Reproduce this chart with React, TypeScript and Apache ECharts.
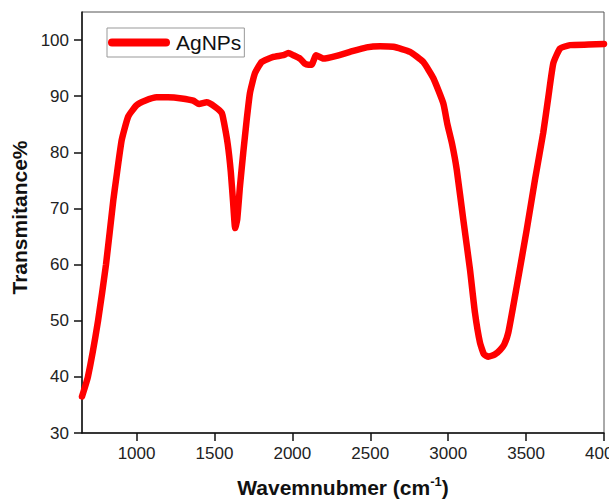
import React, { useEffect, useRef } from "react";
import * as echarts from "echarts";

const wavenumbers = [
  650, 688, 753, 804, 851, 868, 905, 947, 1001, 1054, 1129, 1202, 1290, 1364, 1401, 1450, 1504, 1547,
  1560, 1585, 1605, 1620, 1633, 1646, 1664, 1685, 1707, 1728, 1760, 1803, 1878, 1942, 1974, 2006,
  2049, 2080, 2102, 2124, 2152, 2199, 2284, 2370, 2477, 2563, 2648, 2755, 2840, 2905, 2969, 2995,
  3025, 3055, 3097, 3140, 3172, 3204, 3230, 3258, 3300, 3333, 3360, 3386, 3440, 3504, 3557, 3610,
  3643, 3675, 3718, 3782, 3900, 4000,
];
const transmittance = [
  36.5, 40, 50, 60, 71.5, 75, 82.2, 86.4, 88.4, 89.2, 89.8, 89.8, 89.6, 89.2, 88.6, 88.9, 88.1, 87,
  85.5, 81.5, 76.5, 71, 66.5, 68, 74, 80, 85.8, 90.6, 94.1, 96.1, 97, 97.3, 97.7, 97.3,
  96.7, 95.8, 95.6, 95.6, 97.3, 96.7, 97.2, 97.9, 98.7, 98.9, 98.8, 97.9, 96.1, 93.2, 88.7, 85,
  81.5, 76.9, 68, 59.1, 51.4, 46.1, 44, 43.6, 44, 44.8, 45.8, 47.9, 56.1, 66.2, 75.1, 83.5,
  89.9, 95.9, 98.5, 99.1, 99.2, 99.3,
];
const xTicks = [1000, 1500, 2000, 2500, 3000, 3500, 4000];
const yTicks = [30, 40, 50, 60, 70, 80, 90, 100];
const seriesName = "AgNPs";

export default function App() {
  const ref = useRef<HTMLDivElement>(null);
  useEffect(() => {
    if (!ref.current) return;
    const chart = echarts.init(ref.current, null, { renderer: "svg" });
    const font = "'Liberation Sans', Arial, sans-serif";
    const data = wavenumbers.map((w, i) => [w, transmittance[i]]);
    chart.setOption({
      animation: false,
      textStyle: { fontFamily: font },
      grid: {
        left: 82,
        right: 5,
        top: 12,
        bottom: 68,
        containLabel: false,
        outerBoundsMode: "none",
        show: true,
        borderColor: "#555",
        borderWidth: 1,
      },
      legend: {
        data: [seriesName],
        left: 107,
        top: 28,
        orient: "vertical",
        padding: [4, 3, 4, 1],
        itemWidth: 54,
        itemHeight: 21,
        borderColor: "#999",
        borderWidth: 1,
        borderRadius: 0,
        itemStyle: { opacity: 0 },
        lineStyle: { width: 8, cap: "round", color: "#ff0000" },
        textStyle: {
          fontFamily: font,
          fontSize: 21,
          color: "#111",
          padding: [0, 0, 0, 5],
        },
      },
      xAxis: {
        type: "value",
        min: 650,
        max: 4000,
        name: "{t|Wavemnubmer (cm}{s|-1}{t|)}",
        nameLocation: "middle",
        nameGap: 42,
        nameTextStyle: {
          rich: {
            t: { fontFamily: font, fontSize: 21, fontWeight: "bold", color: "#111", lineHeight: 24 },
            s: { fontFamily: font, fontSize: 13, fontWeight: "bold", color: "#111", lineHeight: 14, verticalAlign: "top" },
          },
        },
        splitLine: { show: false },
        axisLine: { show: true, lineStyle: { color: "#111", width: 1.5 } },
        axisTick: {
          show: true,
          inside: false,
          length: 8,
          lineStyle: { color: "#111", width: 1.5 },
          customValues: xTicks,
        },
        axisLabel: {
          customValues: xTicks,
          formatter: (v: number) => String(v),
          fontFamily: font,
          fontSize: 17,
          color: "#222",
          margin: 12,
          showMinLabel: true,
          showMaxLabel: true,
          hideOverlap: false,
        },
      },
      yAxis: {
        type: "value",
        min: 30,
        max: 105,
        name: "Transmitance%",
        nameLocation: "middle",
        nameGap: 46,
        nameRotate: 90,
        nameTextStyle: {
          fontFamily: font,
          fontSize: 21,
          fontWeight: "bold",
          color: "#111",
          padding: [0, 0, 0, 10],
        },
        splitLine: { show: false },
        axisLine: { show: true, lineStyle: { color: "#111", width: 1.5 } },
        axisTick: {
          show: true,
          inside: false,
          length: 8,
          lineStyle: { color: "#111", width: 1.5 },
          customValues: yTicks,
        },
        axisLabel: {
          customValues: yTicks,
          formatter: (v: number) => String(v),
          fontFamily: font,
          fontSize: 17,
          color: "#222",
          margin: 13,
        },
      },
      series: [
        {
          name: seriesName,
          type: "line",
          data,
          showSymbol: false,
          symbol: "none",
          smooth: 0.15,
          color: "#ff0000",
          lineStyle: { color: "#ff0000", width: 6.5, cap: "round", join: "round" },
        },
      ],
    });
    return () => chart.dispose();
  }, []);
  return (
    <div
      ref={ref}
      style={{ position: "fixed", left: 0, top: 0, width: 609, height: 501, background: "#fff" }}
    />
  );
}
